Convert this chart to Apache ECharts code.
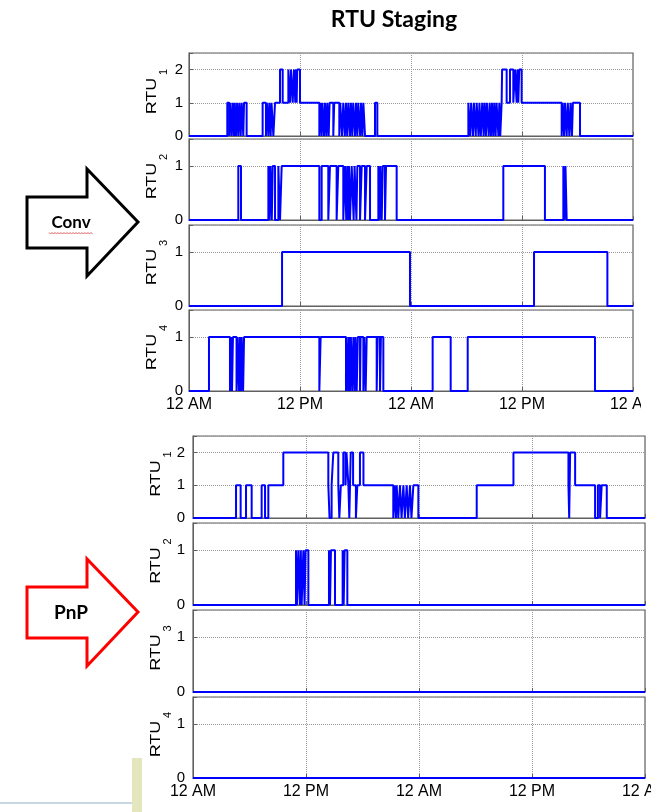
<!DOCTYPE html>
<html>
<head>
<meta charset="utf-8">
<title>RTU Staging</title>
<script src="https://cdn.jsdelivr.net/npm/echarts@6/dist/echarts.min.js"></script>
<style>
  html, body { margin: 0; padding: 0; background: #fff; }
  #main { width: 662px; height: 812px; }
</style>
</head>
<body>
<div id="main"></div>
<script>
// time in hours from midnight (two days shown), each pair = [hour, units on from that hour]
const hourTicks = [0, 12, 24, 36, 48];
const rtuNumbers = ['1', '2', '3', '4'];
const groupNames = ['Conv', 'PnP'];

// Conv staging
const convRtu1 = [
  [0, 0], [4.14, 1], [4.36, 0], [4.45, 1], [4.61, 0], [4.72, 1], [4.86, 0], [4.95, 1], [5.08, 0],
  [5.2, 1], [5.33, 0], [5.45, 1], [5.59, 0], [5.7, 1], [5.87, 0], [5.95, 1], [6.23, 0],
  [7.96, 1], [8.32, 0], [8.42, 1], [8.58, 0], [8.68, 1], [8.83, 0], [8.92, 1], [9.12, 0], [9.3, 1],
  [9.84, 2], [10.13, 1], [10.74, 2], [10.92, 1], [11.03, 2], [11.21, 1], [11.35, 2], [11.49, 1],
  [11.55, 2], [11.64, 1], [11.7, 2], [12.0, 1],
  [14.09, 0], [14.2, 1], [14.34, 0], [14.42, 1], [14.6, 0], [14.7, 1], [14.85, 0], [14.95, 1],
  [15.1, 0], [15.2, 1], [15.6, 0], [15.7, 1], [16.25, 0], [16.35, 1], [16.55, 0], [16.68, 1],
  [16.85, 0], [16.97, 1], [17.1, 0], [17.23, 1], [17.4, 0], [17.5, 1], [17.65, 0], [17.75, 1],
  [17.95, 0], [18.05, 1], [18.2, 0], [18.3, 1], [18.5, 0], [18.6, 1], [18.74, 0], [18.85, 1],
  [19.03, 0], [20.11, 1], [20.36, 0],
  [30.2, 1], [30.4, 0], [30.5, 1], [30.7, 0], [30.8, 1], [31.0, 0], [31.1, 1], [31.3, 0], [31.4, 1],
  [31.55, 0], [31.7, 1], [31.85, 0], [31.95, 1], [32.1, 0], [32.2, 1], [32.4, 0], [32.5, 1],
  [32.65, 0], [32.75, 1], [32.9, 0], [33.0, 1], [33.15, 0], [33.25, 1], [33.45, 0], [33.55, 1],
  [33.65, 0], [33.8, 1], [33.85, 2], [34.34, 1], [34.7, 2], [35.06, 1], [35.24, 2], [35.42, 1],
  [35.5, 2], [35.6, 1], [35.7, 2], [35.96, 1],
  [40.29, 0], [40.4, 1], [40.55, 0], [40.65, 1], [40.83, 0], [40.95, 1], [41.12, 0], [41.25, 1],
  [41.4, 0], [41.5, 1], [42.27, 0], [48, 0]
];
const convRtu2 = [
  [0, 0], [5.33, 1], [5.62, 0],
  [8.58, 1], [8.7, 0], [8.8, 1], [8.95, 0], [9.05, 1], [9.3, 0], [9.66, 1], [9.84, 0], [10.02, 1],
  [14.09, 0], [14.34, 1], [15.06, 0], [15.24, 1], [15.96, 0], [16.14, 1], [16.68, 0], [16.86, 1],
  [17.0, 0], [17.1, 1], [17.2, 0], [17.3, 1], [17.41, 0], [17.59, 1], [17.8, 0], [17.9, 1],
  [18.1, 0], [18.2, 1], [18.49, 0], [18.67, 1], [19.03, 0], [19.21, 1], [19.57, 0],
  [20.47, 1], [20.6, 0], [20.7, 1], [20.83, 0], [20.95, 1], [21.19, 0], [21.3, 1], [22.45, 0],
  [33.98, 1], [38.48, 0], [40.47, 1], [40.6, 0], [40.7, 1], [40.83, 0], [48, 0]
];
const convRtu3 = [
  [0, 0], [10.06, 1], [23.89, 0], [37.3, 1], [45.23, 0], [48, 0]
];
const convRtu4 = [
  [0, 0], [2.16, 1], [4.43, 0], [4.55, 1], [4.65, 0], [4.75, 1], [5.14, 0], [5.25, 1], [5.4, 0],
  [5.5, 1], [5.62, 0], [5.7, 1], [5.85, 0], [5.95, 1], [14.09, 0], [14.23, 1],
  [16.97, 0], [17.05, 1], [17.2, 0], [17.3, 1], [17.41, 0], [17.5, 1], [17.65, 0], [17.77, 1],
  [17.9, 0], [18.0, 1], [18.13, 0], [18.25, 1], [18.49, 0], [18.55, 1], [18.85, 0], [18.95, 1],
  [19.1, 0], [19.21, 1], [20.29, 0], [20.4, 1], [20.65, 0], [20.75, 1], [21.01, 0],
  [26.34, 1], [28.29, 0], [30.13, 1], [43.89, 0], [48, 0]
];

// PnP staging
const pnpRtu1 = [
  [0, 0], [4.57, 1], [5.06, 0], [5.63, 1], [6.23, 0], [7.29, 1], [7.65, 0], [8.0, 1], [9.59, 2],
  [14.37, 1], [14.5, 0], [14.72, 1], [14.9, 2], [15.43, 1], [15.54, 0], [15.7, 1], [15.96, 2],
  [16.2, 1], [16.3, 2], [16.5, 1], [16.6, 0], [16.75, 2], [17.0, 1], [17.3, 0], [17.45, 1],
  [17.73, 2], [18.1, 1], [18.26, 1],
  [21.27, 0], [21.4, 1], [21.55, 0], [21.63, 1], [21.8, 0], [21.98, 1], [22.15, 0], [22.34, 1],
  [22.5, 0], [22.69, 1], [22.85, 0], [23.04, 1], [23.2, 0], [23.4, 1], [23.93, 0],
  [30.13, 1], [34.03, 2], [39.87, 1], [39.95, 0], [40.05, 2], [40.58, 1], [42.7, 0], [43.0, 1],
  [43.23, 0], [43.4, 1], [43.94, 0], [48, 0]
];
const pnpRtu2 = [
  [0, 0], [10.94, 1], [11.05, 0], [11.19, 1], [11.36, 0], [11.45, 1], [11.54, 0], [11.72, 1],
  [11.85, 0], [11.95, 1], [12.25, 0], [14.44, 1], [14.55, 0], [14.65, 1], [15.08, 0],
  [15.89, 1], [16.0, 0], [16.1, 1], [16.39, 0], [48, 0]
];
const pnpRtu3 = [[0, 0], [48, 0]];
const pnpRtu4 = [[0, 0], [48, 0]];

const seriesData = [convRtu1, convRtu2, convRtu3, convRtu4, pnpRtu1, pnpRtu2, pnpRtu3, pnpRtu4];
const yMaxes = [2.5, 1.5, 1.5, 1.5, 2.5, 1.5, 1.5, 1.5];

// panel boxes in px
const panels = [
  { left: 189, top: 53, width: 444, height: 83 },
  { left: 189, top: 139, width: 444, height: 81 },
  { left: 189, top: 225, width: 444, height: 81 },
  { left: 189, top: 310, width: 444, height: 81 },
  { left: 193, top: 436, width: 452, height: 82 },
  { left: 193, top: 523, width: 452, height: 82 },
  { left: 193, top: 610, width: 452, height: 82 },
  { left: 193, top: 697, width: 452, height: 81 }
];

const chart = echarts.init(document.getElementById('main'));

const grids = [], xAxes = [], yAxes = [], series = [];
const graphics = [];

panels.forEach(function (p, i) {
  const isBottom = i === 3 || i === 7;
  grids.push({
    left: p.left, top: p.top, width: p.width, height: p.height,
    outerBoundsMode: 'none',
    show: true, borderColor: '#606060', borderWidth: 1.2, backgroundColor: '#fff'
  });
  xAxes.push({
    type: 'value', gridIndex: i, min: 0, max: 48, interval: 12,
    axisLine: { show: true, lineStyle: { color: '#606060' } },
    axisTick: { show: true, inside: true, length: 4, lineStyle: { color: '#606060' } },
    axisLabel: {
      show: isBottom, margin: 6, fontSize: 16, color: '#000', fontFamily: 'Liberation Sans',
      formatter: function (v) { return v % 24 === 0 ? '12 AM' : '12 PM'; }
    },
    splitLine: { show: true, lineStyle: { type: 'dotted', color: '#999', width: 1 } }
  });
  yAxes.push({
    type: 'value', gridIndex: i, min: 0, max: yMaxes[i], interval: 1,
    axisLine: { show: true, lineStyle: { color: '#606060' } },
    axisTick: { show: true, inside: true, length: 4, lineStyle: { color: '#606060' } },
    axisLabel: {
      margin: i < 4 ? 6 : 8, fontSize: 15, color: '#000', fontFamily: 'Liberation Sans',
      formatter: function (v) { return Number.isInteger(v) ? String(v) : ''; }
    },
    splitLine: { show: true, lineStyle: { type: 'dotted', color: '#999', width: 1 } }
  });
  series.push({
    type: 'line', xAxisIndex: i, yAxisIndex: i, step: 'end',
    data: seriesData[i], showSymbol: false, silent: true,
    lineStyle: { color: '#0000ff', width: 2 }
  });

  // RTU with subscript
  const cy = p.top + p.height / 2 + 1.5;
  graphics.push({
    type: 'text', x: p.left - 37, y: cy, rotation: Math.PI / 2, scaleX: 1.2,
    style: { text: 'RTU', fontSize: 15, fontFamily: 'Liberation Sans', fill: '#000',
      textAlign: 'center', textVerticalAlign: 'middle' }
  });
  graphics.push({
    type: 'text', x: p.left - 25, y: cy - 24, rotation: Math.PI / 2,
    style: { text: rtuNumbers[i % 4], fontSize: 11, fontFamily: 'Liberation Sans', fill: '#000',
      textAlign: 'center', textVerticalAlign: 'middle' }
  });
});

// title
graphics.push({
  type: 'text', x: 394, y: 20,
  style: { text: 'RTU Staging', fontSize: 23, fontWeight: 'bold', fontFamily: 'Lato',
    fill: '#000', textAlign: 'center', textVerticalAlign: 'middle' }
});

// block arrows with the group names
function arrow(y0, color) {
  return {
    type: 'polygon',
    shape: { points: [[27, y0 + 28], [87, y0 + 28], [87, y0], [138, y0 + 53], [87, y0 + 107], [87, y0 + 79], [27, y0 + 79]] },
    style: { fill: '#fff', stroke: color, lineWidth: 3 }
  };
}
graphics.push(arrow(169, '#000'));
graphics.push(arrow(559, '#ff0000'));
graphics.push({
  type: 'text', x: 71, y: 223,
  style: { text: groupNames[0], fontSize: 17, fontWeight: 'bold', fontFamily: 'Lato', fill: '#000',
    textAlign: 'center', textVerticalAlign: 'middle' }
});
const wave = [];
for (let x = 49; x <= 93; x += 1.5) wave.push([x, 233 + ((Math.round((x - 49) / 1.5) % 2) ? 1 : -0.5)]);
graphics.push({ type: 'polyline', shape: { points: wave }, style: { stroke: '#e06060', lineWidth: 1, fill: null } });
graphics.push({
  type: 'text', x: 71, y: 613,
  style: { text: groupNames[1], fontSize: 19, fontWeight: 'bold', fontFamily: 'Lato', fill: '#000',
    textAlign: 'center', textVerticalAlign: 'middle' }
});

// slide leftovers and cropped right edge
graphics.push({ type: 'rect', shape: { x: 132, y: 758, width: 10, height: 54 }, style: { fill: '#e4e7bd' } });
graphics.push({ type: 'line', shape: { x1: 0, y1: 803, x2: 132, y2: 803 }, style: { stroke: '#b5cadb', lineWidth: 1.5 } });
graphics.push({ type: 'rect', z: 100, shape: { x: 641, y: 394, width: 21, height: 22 }, style: { fill: '#fff' } });
graphics.push({ type: 'rect', z: 100, shape: { x: 651, y: 781, width: 11, height: 25 }, style: { fill: '#fff' } });

chart.setOption({
  animation: false,
  grid: grids,
  xAxis: xAxes,
  yAxis: yAxes,
  series: series,
  graphic: graphics
});
</script>
</body>
</html>
